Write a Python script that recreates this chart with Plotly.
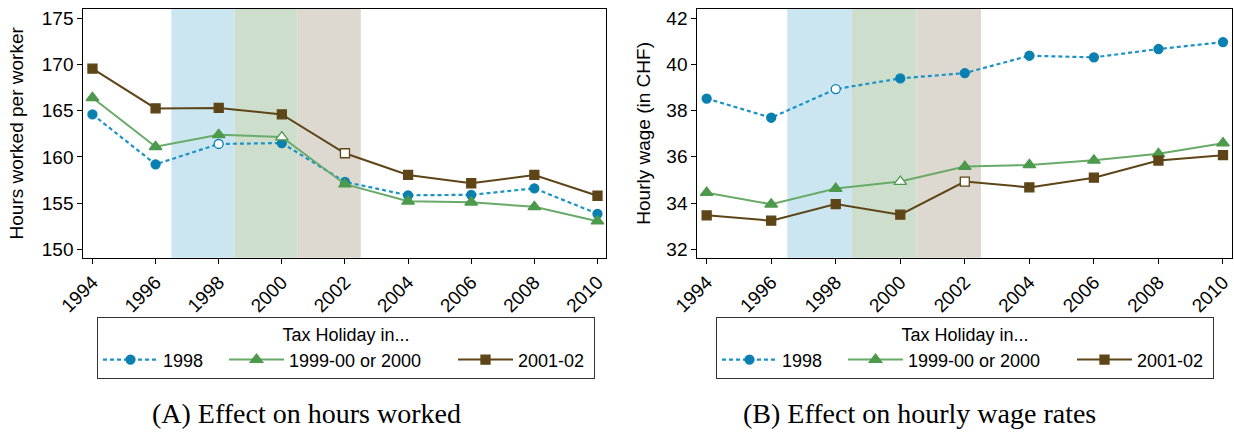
import plotly.graph_objects as go

years = [1994, 1996, 1998, 2000, 2002, 2004, 2006, 2008, 2010]
series_names = ["1998", "1999-00 or 2000", "2001-02"]

# Panel A: hours worked per worker
hours_1998 = [164.6, 159.2, 161.4, 161.5, 157.3, 155.85, 155.9, 156.6, 153.85]
hours_1999_00 = [166.4, 161.1, 162.4, 162.15, 157.05, 155.2, 155.1, 154.6, 153.05]
hours_2001_02 = [169.55, 165.25, 165.3, 164.6, 160.4, 158.05, 157.15, 158.05, 155.8]

# Panel B: hourly wage (CHF)
wage_1998 = [38.52, 37.69, 38.93, 39.39, 39.62, 40.37, 40.30, 40.66, 40.96]
wage_1999_00 = [34.45, 33.95, 34.63, 34.93, 35.58, 35.65, 35.85, 36.13, 36.59]
wage_2001_02 = [33.47, 33.24, 33.96, 33.50, 34.93, 34.68, 35.10, 35.84, 36.07]

# year in which each group's tax holiday point is shown hollow
hollow_years = [1998, 2000, 2002]

# tax holiday periods (shaded bands)
band_starts = [1996.5, 1998.5, 2000.5]
band_ends = [1998.5, 2000.5, 2002.5]
band_colors = ["#cbe6f1", "#cddfcc", "#ddd9d1"]

line_colors = ["#1b93c6", "#68aa68", "#5e4518"]
marker_colors = ["#0a80b0", "#4d994d", "#5e4518"]
symbols = ["circle", "triangle-up", "square"]
marker_sizes = [9, 11, 9]
dashes = ["4px,3px", "solid", "solid"]
legend_widths = [56, 159, 71]

y_ticks_a = [150, 155, 160, 165, 170, 175]
y_ticks_b = [32, 34, 36, 38, 40, 42]

FONT = "Liberation Sans, Arial, sans-serif"
SERIF = "Liberation Serif, Times New Roman, serif"
W, H = 1234, 433

fig = go.Figure()

panels = [
    ([hours_1998, hours_1999_00, hours_2001_02], "x", "y", "legend"),
    ([wage_1998, wage_1999_00, wage_2001_02], "x2", "y2", "legend2"),
]

for data, xa, ya, lg in panels:
    for i, vals in enumerate(data):
        fills = ["white" if yr == hollow_years[i] else marker_colors[i] for yr in years]
        fig.add_trace(go.Scatter(
            x=years, y=vals, name=series_names[i], mode="lines+markers",
            xaxis=xa, yaxis=ya, legend=lg, legendwidth=legend_widths[i],
            line=dict(color=line_colors[i], width=2.2 if i == 0 else 2, dash=dashes[i]),
            marker=dict(symbol=symbols[i], size=marker_sizes[i], color=fills,
                        line=dict(color=marker_colors[i], width=1.3)),
            cliponaxis=False,
        ))

shapes = []
for xr in ["x", "x2"]:
    for s, e, c in zip(band_starts, band_ends, band_colors):
        shapes.append(dict(type="rect", xref=xr, yref=("y" if xr == "x" else "y2") + " domain",
                           x0=s, x1=e, y0=0, y1=1, fillcolor=c, line=dict(width=0),
                           layer="below"))

xd_a = [83.3 / W, 606 / W]
xd_b = [697.3 / W, 1231.7 / W]
yd = [1 - 257.7 / H, 1 - 9 / H]

xaxis_common = dict(range=[1993.71, 2010.27], tickvals=years, ticktext=[str(y) for y in years],
                    tickangle=-45, ticks="outside", ticklen=5, tickcolor="black",
                    showline=True, linecolor="black", linewidth=1, mirror=True,
                    showgrid=False, zeroline=False, automargin=False,
                    tickfont=dict(family=FONT, size=19, color="black"))
yaxis_common = dict(ticks="outside", ticklen=5, tickcolor="black",
                    showline=True, linecolor="black", linewidth=1, mirror=True,
                    showgrid=False, zeroline=False, automargin=False,
                    tickfont=dict(family=FONT, size=19, color="black"))

legend_common = dict(orientation="h", yanchor="top", xanchor="left",
                     bordercolor="#333333", borderwidth=1, bgcolor="white",
                     itemwidth=55,
                     font=dict(family=FONT, size=18, color="black"),
                     title=dict(text="Tax Holiday in...", side="top center",
                                font=dict(family=FONT, size=18, color="black")))

fig.update_layout(
    template="none",
    width=W, height=H,
    margin=dict(l=0, r=0, t=0, b=0, autoexpand=False),
    paper_bgcolor="white", plot_bgcolor="white",
    font=dict(family=FONT, size=18, color="black"),
    shapes=shapes,
    xaxis=dict(domain=xd_a, anchor="y", **xaxis_common),
    xaxis2=dict(domain=xd_b, anchor="y2", **xaxis_common),
    yaxis=dict(domain=yd, anchor="x", range=[149.1, 176.0], tickvals=y_ticks_a,
               title=dict(text="Hours worked per worker", standoff=13,
                          font=dict(family=FONT, size=19, color="black")),
               **yaxis_common),
    yaxis2=dict(domain=yd, anchor="x2", range=[31.64, 42.39], tickvals=y_ticks_b,
                title=dict(text="Hourly wage (in CHF)", standoff=10,
                           font=dict(family=FONT, size=19, color="black")),
                **yaxis_common),
    legend=dict(x=97 / W, y=1 - 317 / H, **legend_common),
    legend2=dict(x=716 / W, y=1 - 317 / H, **legend_common),
    annotations=[
        dict(text="(A) Effect on hours worked", xref="paper", yref="paper",
             x=306 / W, y=1 - 413 / H, xanchor="center", yanchor="middle", showarrow=False,
             font=dict(family=SERIF, size=28, color="black")),
        dict(text="(B) Effect on hourly wage rates", xref="paper", yref="paper",
             x=919 / W, y=1 - 413 / H, xanchor="center", yanchor="middle", showarrow=False,
             font=dict(family=SERIF, size=28, color="black")),
    ],
)

fig.write_html("out.html", config={"displayModeBar": False},
               post_script="document.body.style.margin='0';document.body.style.overflow='hidden';")
